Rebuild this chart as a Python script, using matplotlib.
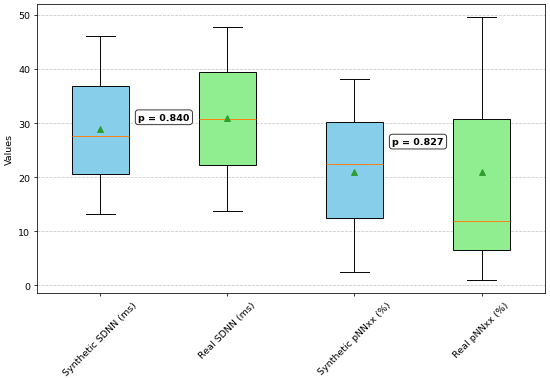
import matplotlib
matplotlib.use("Agg")
import matplotlib.pyplot as plt

# Box statistics
labels = ["Synthetic SDNN (ms)", "Real SDNN (ms)", "Synthetic pNNxx (%)", "Real pNNxx (%)"]
whislo = [13.2, 13.7, 2.4, 1.0]
q1 = [20.6, 22.3, 12.4, 6.55]
med = [27.6, 30.8, 22.4, 11.9]
q3 = [36.9, 39.4, 30.2, 30.8]
whishi = [46.2, 47.8, 38.2, 49.6]
means = [29.0, 30.9, 21.0, 20.9]
colors = ["skyblue", "lightgreen", "skyblue", "lightgreen"]

p_values = [0.840, 0.827]
p_x = [1.5, 3.5]
p_y = [31.1, 26.6]

stats = []
for i, lab in enumerate(labels):
    stats.append({
        "label": lab,
        "whislo": whislo[i],
        "q1": q1[i],
        "med": med[i],
        "q3": q3[i],
        "whishi": whishi[i],
        "mean": means[i],
        "fliers": [],
    })

fig, ax = plt.subplots(figsize=(8, 5.51), dpi=68.75)
bp = ax.bxp(stats, showmeans=True, patch_artist=True, widths=0.45)
for patch, c in zip(bp["boxes"], colors):
    patch.set_facecolor(c)

for px, py, pv in zip(p_x, p_y, p_values):
    ax.text(px, py, "p = {:.3f}".format(pv), ha="center", va="center",
            fontweight="bold",
            bbox=dict(boxstyle="round", facecolor="white", edgecolor="black", alpha=0.8))

ax.set_ylabel("Values")
ax.set_xticks(range(1, len(labels) + 1), labels=labels, rotation=45)
ax.yaxis.grid(True, linestyle="--", alpha=0.7)

fig.subplots_adjust(left=0.067, right=0.991, top=0.987, bottom=0.224)
fig.savefig("out.png", dpi=68.75)
